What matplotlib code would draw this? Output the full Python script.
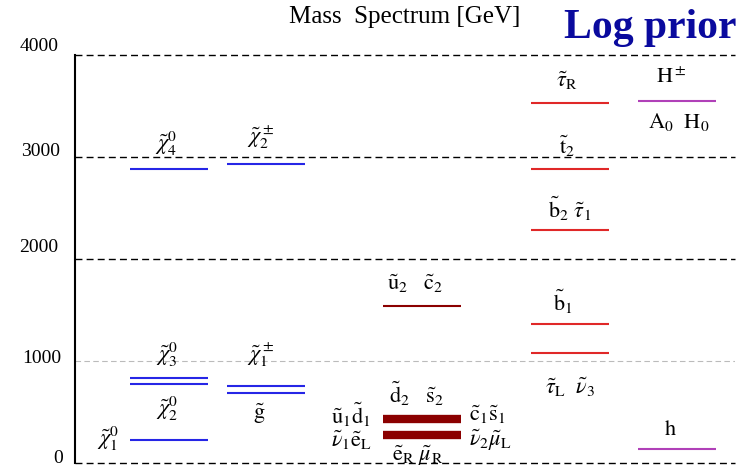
import numpy as np
import matplotlib
matplotlib.use("Agg")
import matplotlib.pyplot as plt
from matplotlib.transforms import blended_transform_factory

plt.rcParams['font.family'] = ['Liberation Serif', 'DejaVu Serif']
plt.rcParams['mathtext.fontset'] = 'stix'

# masses [GeV], grouped by column
neutralino = [225, 775, 833, 2882]
chargino_gluino = [686, 755, 2931]
squark_light = [275, 431, 1539]
third_gen = [1078, 1363, 2284, 2882, 3529]
higgs = [137, 3549]

ticks = [0, 1000, 2000, 3000, 4000]
tick_labels = ['0', '1000', '2000', '3000', '4000']
tick_raise = [3, 2, 8, 4, 6]   # label sits a bit above its line (points)
tick_shift = [-9, -10, -12, -11, -12]

# column centres and half-width (axis units)
col_x = [0.94, 1.91, 3.47, 4.95, 6.02]
half_w = 0.39

blue = '#2626e6'
dred = '#8b0000'
red = '#e02828'
purple = '#b040b8'

fig = plt.figure(figsize=(7.56, 4.67), dpi=100)
ax = fig.add_axes([75 / 756, 4 / 467, 660 / 756, 408 / 467])
ax.set_xlim(0, 6.6)
ax.set_ylim(0, 4000)

# horizontal reference lines
for v in [0, 2000, 3000, 4000]:
    ax.axhline(v, color='black', lw=1.0, ls=(0, (5, 3)), clip_on=False)
ax.axhline(1000, color='#bbbbbb', lw=0.8, ls=(0, (5, 3)))

for s in ['top', 'right', 'bottom']:
    ax.spines[s].set_visible(False)
ax.spines['left'].set_linewidth(1.5)
ax.set_xticks([])
ax.set_yticks([])

tr = blended_transform_factory(ax.transAxes, ax.transData)
for v, t, r, sx in zip(ticks, tick_labels, tick_raise, tick_shift):
    ax.annotate(t, (0, v), xycoords=tr, xytext=(sx, r), textcoords='offset points',
                ha='right', va='center', fontsize=14, annotation_clip=False)


def level(col, m, color, lw=1.5):
    ax.hlines(m, col_x[col] - half_w, col_x[col] + half_w, color=color, lw=lw)


def lab(col, m, text, dx, dy, size=16):
    ax.annotate(text, (col_x[col], m), xytext=(dx, dy), textcoords='offset points',
                ha='center', va='center', fontsize=size)


for m in neutralino:
    level(0, m, blue)
for m in chargino_gluino:
    level(1, m, blue)
level(2, squark_light[0], dred, lw=6)
level(2, squark_light[1], dred, lw=6)
level(2, squark_light[2], dred)
for m in third_gen:
    level(3, m, red)
for m in higgs:
    level(4, m, purple)

# labels
lab(0, neutralino[0], r'$\tilde{\chi}^0_1$', -44, 1)
lab(0, neutralino[2], r'$\tilde{\chi}^0_3$', -1, 17)
lab(0, neutralino[1], r'$\tilde{\chi}^0_2$', -1, -18)
lab(0, neutralino[3], r'$\tilde{\chi}^0_4$', -2, 18)
lab(1, chargino_gluino[2], r'$\tilde{\chi}^\pm_2$', -4, 19)
lab(1, chargino_gluino[1], r'$\tilde{\chi}^\pm_1$', -4, 22)
lab(1, chargino_gluino[0], r'$\tilde{\mathrm{g}}$', -5, -15)
lab(2, squark_light[2], r'$\tilde{\mathrm{u}}_2\ \ \ \tilde{\mathrm{c}}_2$', -5, 16)
lab(2, squark_light[1], r'$\tilde{\mathrm{d}}_2\ \ \ \tilde{\mathrm{s}}_2$', -4, 18)
lab(2, squark_light[1], r'$\tilde{\mathrm{u}}_1\tilde{\mathrm{d}}_1$', -51, 3)
lab(2, squark_light[0], r'$\tilde{\nu}_1\tilde{\mathrm{e}}_\mathrm{L}$', -51, -4)
lab(2, squark_light[0], r'$\tilde{\mathrm{e}}_\mathrm{R}\ \tilde{\mu}_\mathrm{R}$', -3, -15)
lab(2, squark_light[1], r'$\tilde{\mathrm{c}}_1\tilde{\mathrm{s}}_1$', 47, 3)
lab(2, squark_light[0], r'$\tilde{\nu}_2\tilde{\mu}_\mathrm{L}$', 49, -4)
lab(3, third_gen[4], r'$\tilde{\tau}_\mathrm{R}$', -2, 16)
lab(3, third_gen[3], r'$\tilde{\mathrm{t}}_2$', -2, 16)
lab(3, third_gen[2], r'$\tilde{\mathrm{b}}_2\ \tilde{\tau}_1$', 0, 15)
lab(3, third_gen[1], r'$\tilde{\mathrm{b}}_1$', -5, 16)
lab(3, third_gen[0], r'$\tilde{\tau}_\mathrm{L}\ \ \tilde{\nu}_3$', 0, -25)
lab(4, higgs[1], r'$\mathrm{H}^\pm$', -4, 16)
lab(4, higgs[1], r'$\mathrm{A}_0\ \ \mathrm{H}_0$', 1, -15)
lab(4, higgs[0], r'$\mathrm{h}$', -5, 13)

fig.text(405 / 756, 1 - 17 / 467, 'Mass  Spectrum [GeV]', ha='center', va='center',
         fontsize=18)
fig.text(650 / 756, 1 - 28 / 467, 'Log prior', ha='center', va='center',
         fontsize=30, fontweight='bold', color='#0a0a9e')

fig.savefig('out.png', dpi=100)
